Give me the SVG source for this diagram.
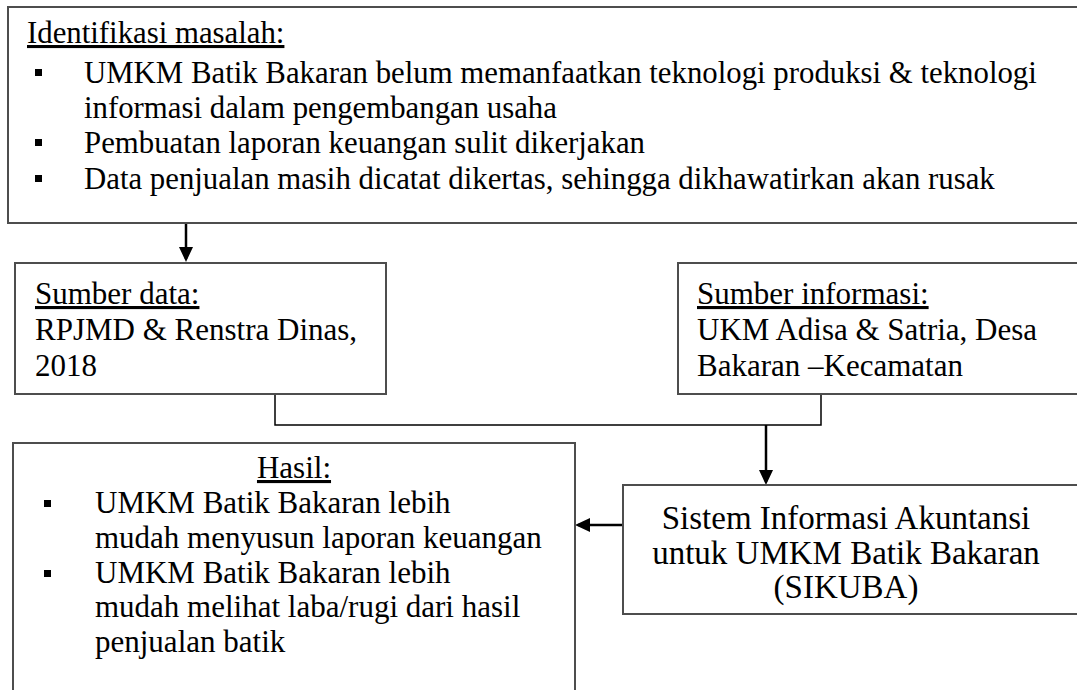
<svg xmlns="http://www.w3.org/2000/svg" width="1077" height="690" viewBox="0 0 1077 690">
<style>
text{font-family:"Liberation Serif","Times New Roman",serif;font-size:31px;fill:#000}
.t{font-size:30.8px}
.s{font-size:33px}
.box{fill:#fff;stroke:#4d4d4d;stroke-width:2}
.ul{text-decoration:underline}
.c{text-anchor:middle}
.con{fill:none;stroke:#000;stroke-width:1.5}
.arr{fill:none;stroke:#000;stroke-width:2.5}
.b{fill:#000}
</style>
<defs>
<marker id="ah" viewBox="0 0 15 14" refX="12" refY="7" markerWidth="15" markerHeight="14" markerUnits="userSpaceOnUse" orient="auto">
<path d="M0,0 L15,7 L0,14 Z" fill="#000"/>
</marker>
</defs>
<rect width="1077" height="690" fill="#fff"/>
<g id="connectors">
<line class="arr" x1="186" y1="223" x2="186" y2="259" marker-end="url(#ah)"/>
<polyline class="con" points="275,395 275,425 821,425 821,395"/>
<line class="arr" x1="766" y1="425" x2="766" y2="482" marker-end="url(#ah)"/>
<line class="arr" x1="622" y1="525" x2="578" y2="525" marker-end="url(#ah)"/>
</g>
<g id="identifikasi">
<rect class="box" x="8" y="7" width="1090" height="216"/>
<text x="27" y="43" class="t ul">Identifikasi masalah:</text>
<rect class="b" x="35" y="69" width="7" height="7"/>
<text x="84" y="83" class="t">UMKM Batik Bakaran belum memanfaatkan teknologi produksi &amp; teknologi</text>
<text x="84" y="118" class="t">informasi dalam pengembangan usaha</text>
<rect class="b" x="35" y="139" width="7" height="7"/>
<text x="84" y="153" class="t">Pembuatan laporan keuangan sulit dikerjakan</text>
<rect class="b" x="35" y="175" width="7" height="7"/>
<text x="84" y="189" class="t">Data penjualan masih dicatat dikertas, sehingga dikhawatirkan akan rusak</text>
</g>
<g id="sumber-data">
<rect class="box" x="15" y="263" width="371" height="131"/>
<text x="35" y="304" class="ul">Sumber data:</text>
<text x="35" y="340">RPJMD &amp; Renstra Dinas,</text>
<text x="35" y="376">2018</text>
</g>
<g id="sumber-informasi">
<rect class="box" x="678" y="263" width="420" height="131"/>
<text x="697" y="304" class="ul">Sumber informasi:</text>
<text x="697" y="340">UKM Adisa &amp; Satria, Desa</text>
<text x="697" y="376">Bakaran –Kecamatan</text>
</g>
<g id="sikuba">
<rect class="box" x="623" y="485" width="475" height="129"/>
<text x="846" y="529" class="s c">Sistem Informasi Akuntansi</text>
<text x="846" y="564" class="s c">untuk UMKM Batik Bakaran</text>
<text x="846" y="598" class="s c">(SIKUBA)</text>
</g>
<g id="hasil">
<rect class="box" x="13" y="443" width="562" height="270"/>
<text x="294" y="478" class="c ul">Hasil:</text>
<rect class="b" x="44" y="500" width="7" height="7"/>
<text x="95" y="513">UMKM Batik Bakaran lebih</text>
<text x="95" y="548">mudah menyusun laporan keuangan</text>
<rect class="b" x="44" y="570" width="7" height="7"/>
<text x="95" y="583">UMKM Batik Bakaran lebih</text>
<text x="95" y="617">mudah melihat laba/rugi dari hasil</text>
<text x="95" y="652">penjualan batik</text>
</g>
</svg>
